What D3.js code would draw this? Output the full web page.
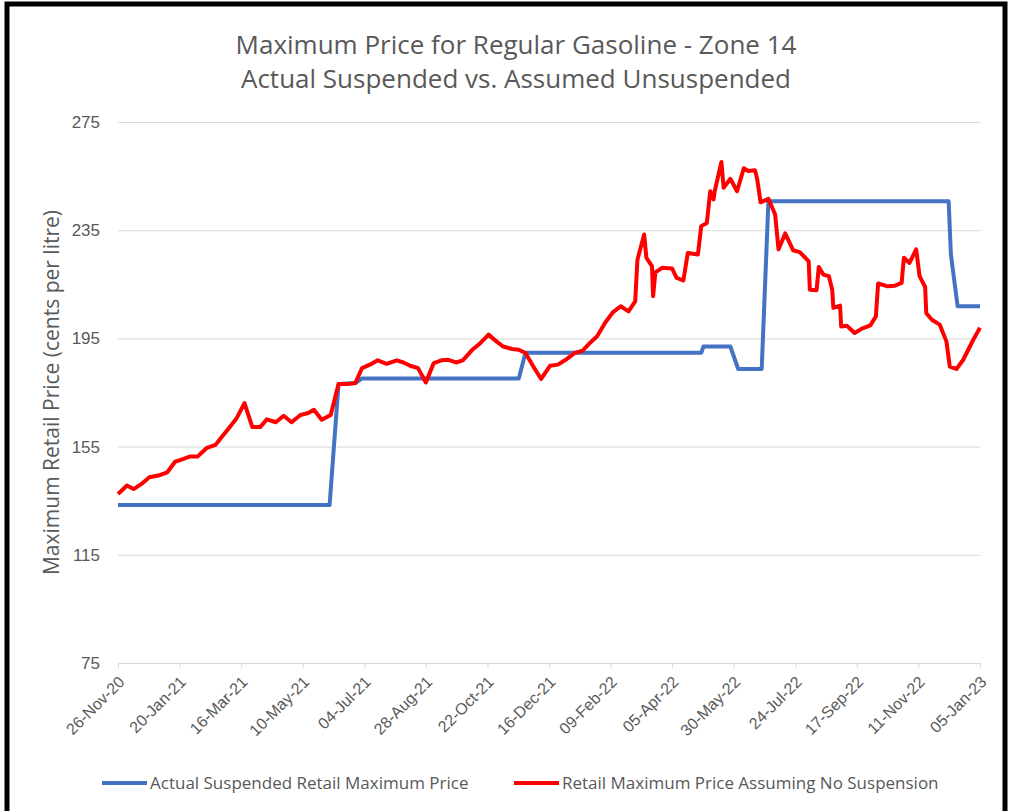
<!DOCTYPE html>
<html lang="en">
<head>
  <meta charset="UTF-8">
  <title>Maximum Price for Regular Gasoline - Zone 14</title>
  <script src="https://d3js.org/d3.v7.min.js"></script>
  <style>
    body {
      margin: 0;
      padding: 0;
      background: #fff;
      font-family: "Open Sans", sans-serif;
    }
    svg text {
      fill: #595959;
    }
    .grid line {
      stroke: #d9d9d9;
      stroke-width: 1;
    }
  </style>
</head>
<body>
  <svg id="chart" width="1010" height="811"></svg>

  <script>
    // values (cents per litre)
    const tickDates = ["2020-11-26", "2021-01-20", "2021-03-16", "2021-05-10", "2021-07-04",
      "2021-08-28", "2021-10-22", "2021-12-16", "2022-02-09", "2022-04-05", "2022-05-30",
      "2022-07-24", "2022-09-17", "2022-11-11", "2023-01-05"];
    const yTicks = [75, 115, 155, 195, 235, 275];

    const actualDates = ["2020-11-26", "2021-06-03", "2021-06-11", "2021-06-26", "2021-07-02",
      "2021-11-19", "2021-11-25", "2022-05-01", "2022-05-03", "2022-05-27", "2022-06-03",
      "2022-06-24", "2022-06-30", "2022-12-08", "2022-12-10", "2022-12-16", "2023-01-05"];
    const actualValues = [133.4, 133.4, 178.1, 178.5, 180.2,
      180.2, 189.7, 189.7, 192.0, 192.0, 183.7,
      183.7, 245.7, 245.7, 226.0, 206.9, 206.9];

    const noSuspDates = ["2020-11-26", "2020-12-04", "2020-12-10", "2020-12-17", "2020-12-24",
      "2021-01-01", "2021-01-09", "2021-01-16", "2021-01-23", "2021-01-29", "2021-02-05",
      "2021-02-13", "2021-02-21", "2021-02-27", "2021-03-05", "2021-03-12", "2021-03-19",
      "2021-03-26", "2021-04-02", "2021-04-08", "2021-04-16", "2021-04-23", "2021-04-30",
      "2021-05-08", "2021-05-15", "2021-05-20", "2021-05-27", "2021-06-04", "2021-06-11",
      "2021-06-19", "2021-06-26", "2021-07-02", "2021-07-09", "2021-07-16", "2021-07-24",
      "2021-08-02", "2021-08-08", "2021-08-14", "2021-08-21", "2021-08-28", "2021-09-04",
      "2021-09-11", "2021-09-17", "2021-09-24", "2021-09-30", "2021-10-08", "2021-10-15",
      "2021-10-23", "2021-10-30", "2021-11-05", "2021-11-13", "2021-11-19", "2021-11-25",
      "2021-12-02", "2021-12-09", "2021-12-17", "2021-12-24", "2022-01-01", "2022-01-08",
      "2022-01-15", "2022-01-22", "2022-01-28", "2022-02-04", "2022-02-11", "2022-02-18",
      "2022-02-25", "2022-03-03", "2022-03-05", "2022-03-11", "2022-03-13", "2022-03-18",
      "2022-03-19", "2022-03-21", "2022-03-27", "2022-04-05", "2022-04-09", "2022-04-15",
      "2022-04-19", "2022-04-28", "2022-05-01", "2022-05-06", "2022-05-09", "2022-05-12",
      "2022-05-13", "2022-05-19", "2022-05-21", "2022-05-27", "2022-06-02", "2022-06-08",
      "2022-06-12", "2022-06-18", "2022-06-20", "2022-06-23", "2022-06-30", "2022-07-06",
      "2022-07-09", "2022-07-15", "2022-07-22", "2022-07-28", "2022-08-05", "2022-08-06",
      "2022-08-12", "2022-08-14", "2022-08-18", "2022-08-23", "2022-08-26", "2022-08-27",
      "2022-09-02", "2022-09-03", "2022-09-08", "2022-09-15", "2022-09-21", "2022-09-29",
      "2022-10-04", "2022-10-06", "2022-10-14", "2022-10-21", "2022-10-27", "2022-10-29",
      "2022-11-03", "2022-11-09", "2022-11-12", "2022-11-17", "2022-11-18", "2022-11-23",
      "2022-11-30", "2022-12-06", "2022-12-09", "2022-12-15", "2022-12-21", "2022-12-30",
      "2023-01-05"];
    const noSuspValues = [137.5, 140.6, 139.3, 141.2, 143.7,
      144.3, 145.5, 149.4, 150.4, 151.3, 151.3,
      154.4, 155.6, 158.7, 161.8, 165.5, 171.1,
      162.2, 162.2, 165.1, 164.0, 166.4, 164.0,
      166.7, 167.4, 168.6, 164.9, 166.7, 178.1,
      178.1, 178.5, 184.0, 185.3, 186.9, 185.6,
      186.9, 186.1, 184.9, 184.0, 178.7, 185.9,
      186.9, 187.1, 186.1, 186.9, 190.6, 193.0,
      196.4, 193.9, 192.0, 191.1, 190.8, 189.6,
      184.6, 180.0, 184.9, 185.3, 187.4, 189.6,
      190.5, 193.5, 195.8, 200.7, 204.6, 206.9,
      205.0, 208.7, 224.1, 233.4, 224.8, 221.7,
      210.6, 219.4, 221.1, 220.8, 217.4, 216.4,
      226.6, 226.0, 236.5, 237.7, 249.4, 246.4,
      249.4, 260.2, 250.7, 254.0, 249.4, 257.9,
      256.9, 257.2, 253.8, 245.3, 246.6, 240.8,
      227.9, 233.8, 227.6, 226.9, 223.5, 213.0,
      212.8, 221.4, 218.6, 218.0, 213.0, 206.3,
      207.1, 199.4, 199.7, 197.0, 198.5, 199.8,
      203.1, 215.3, 214.3, 214.5, 215.5, 224.8,
      222.9, 227.9, 218.0, 214.0, 204.4, 201.9,
      200.1, 193.9, 184.6, 183.7, 187.1, 194.5,
      198.9];

    const parse = d3.timeParse("%Y-%m-%d");
    const series = [
      { name: "Actual Suspended Retail Maximum Price", color: "#4472c4",
        points: d3.zip(actualDates.map(parse), actualValues) },
      { name: "Retail Maximum Price Assuming No Suspension", color: "#ff0000",
        points: d3.zip(noSuspDates.map(parse), noSuspValues) }
    ];

    const svg = d3.select("#chart");
    const plot = { left: 118, right: 980, top: 122, bottom: 663 };

    const x = d3.scaleTime()
      .domain([parse(tickDates[0]), parse(tickDates[tickDates.length - 1])])
      .range([plot.left, plot.right]);
    const y = d3.scaleLinear().domain([75, 275]).range([plot.bottom, plot.top]);

    // frame round the picture
    svg.append("rect")
      .attr("x", 7).attr("y", 4)
      .attr("width", 998).attr("height", 830)
      .attr("fill", "none")
      .attr("stroke", "#000")
      .attr("stroke-width", 5);

    // title
    svg.append("text")
      .attr("x", 516).attr("y", 54)
      .attr("text-anchor", "middle")
      .style("font-size", "26px")
      .text("Maximum Price for Regular Gasoline - Zone 14");
    svg.append("text")
      .attr("x", 516).attr("y", 88)
      .attr("text-anchor", "middle")
      .style("font-size", "26px")
      .text("Actual Suspended vs. Assumed Unsuspended");

    // gridlines + y labels
    const yAxis = svg.append("g")
      .attr("class", "grid")
      .attr("transform", `translate(${plot.left},0)`)
      .call(d3.axisLeft(y).tickValues(yTicks).tickSize(-(plot.right - plot.left)).tickPadding(18));
    yAxis.select(".domain").remove();
    yAxis.selectAll("text").style("font-size", "17px").attr("fill", "#595959");

    svg.append("text")
      .attr("transform", `translate(59,${(plot.top + plot.bottom) / 2}) rotate(-90)`)
      .attr("text-anchor", "middle")
      .style("font-size", "21px")
      .text("Maximum Retail Price (cents per litre)");

    // x axis
    const xAxis = svg.append("g")
      .attr("transform", `translate(0,${plot.bottom})`)
      .call(d3.axisBottom(x)
        .tickValues(tickDates.map(parse))
        .tickFormat(d3.timeFormat("%d-%b-%y"))
        .tickSize(5)
        .tickSizeOuter(0));
    xAxis.select(".domain").attr("stroke", "#d9d9d9");
    xAxis.selectAll(".tick line").attr("stroke", "#d9d9d9");
    xAxis.selectAll("text")
      .style("font-size", "16px")
      .attr("fill", "#595959")
      .attr("text-anchor", "end")
      .attr("x", 0).attr("y", 0).attr("dy", "0.35em")
      .attr("transform", "translate(3,16) rotate(-45)");

    // lines
    const line = d3.line()
      .x(d => x(d[0]))
      .y(d => y(d[1]));

    svg.append("g")
      .selectAll("path")
      .data(series)
      .join("path")
      .attr("d", d => line(d.points))
      .attr("fill", "none")
      .attr("stroke", d => d.color)
      .attr("stroke-width", 4)
      .attr("stroke-linejoin", "round");

    // legend
    const legendX = [102, 514];
    const legend = svg.append("g")
      .selectAll("g")
      .data(series)
      .join("g")
      .attr("transform", (d, i) => `translate(${legendX[i]},783)`);
    legend.append("line")
      .attr("x1", 0).attr("x2", 45)
      .attr("stroke", d => d.color)
      .attr("stroke-width", 4);
    legend.append("text")
      .attr("x", 48)
      .attr("dy", "0.35em")
      .style("font-size", "17px")
      .text(d => d.name);
  </script>
</body>
</html>
